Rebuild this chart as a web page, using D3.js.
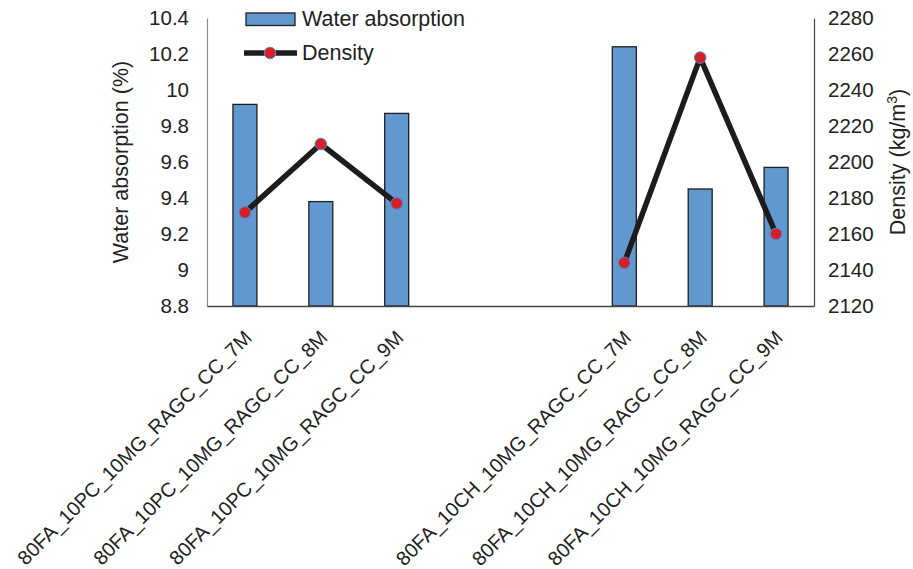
<!DOCTYPE html>
<html>
<head>
<meta charset="utf-8">
<script src="https://cdn.jsdelivr.net/npm/d3@7"></script>
<style>
  body { margin: 0; background: #fff; }
  svg { display: block; font-family: "Liberation Sans", Arial, sans-serif; }
</style>
</head>
<body>
<svg id="chart" width="913" height="569"></svg>
<script>
// Mix designs; the two blank slots separate the PC and CH groups
const categories = [
  "80FA_10PC_10MG_RAGC_CC_7M",
  "80FA_10PC_10MG_RAGC_CC_8M",
  "80FA_10PC_10MG_RAGC_CC_9M",
  "",
  "",
  "80FA_10CH_10MG_RAGC_CC_7M",
  "80FA_10CH_10MG_RAGC_CC_8M",
  "80FA_10CH_10MG_RAGC_CC_9M"
];
const waterAbsorption = [9.92, 9.38, 9.87, null, null, 10.24, 9.45, 9.57];
const density = [2172, 2210, 2177, null, null, 2144, 2258, 2160];
const leftTicks = [8.8, 9, 9.2, 9.4, 9.6, 9.8, 10, 10.2, 10.4];
const rightTicks = [2120, 2140, 2160, 2180, 2200, 2220, 2240, 2260, 2280];

const svg = d3.select("#chart");
const plotLeft = 207, plotRight = 814, plotTop = 18, plotBottom = 306;
const tickSize = 20.5, labelSize = 20, titleSize = 21.5;
const textColor = "#222";

const x = d3.scaleBand()
  .domain(d3.range(categories.length))
  .range([plotLeft, plotRight])
  .paddingInner(0.684)
  .paddingOuter(0.342);
const yL = d3.scaleLinear().domain([8.8, 10.4]).range([plotBottom, plotTop]);
const yR = d3.scaleLinear().domain([2120, 2280]).range([plotBottom, plotTop]);

const barFill = "#6198d0";
const barStroke = "#1f1f1f";
const lineColor = "#1c1c1c";
const markerFill = "#d4202a";
const markerStroke = "#5a86c5";

// Bars
svg.append("g")
  .selectAll("rect")
  .data(waterAbsorption.map((v, i) => ({ i, v })).filter(d => d.v !== null))
  .join("rect")
  .attr("x", d => x(d.i))
  .attr("width", x.bandwidth())
  .attr("y", d => yL(d.v))
  .attr("height", d => yL(8.8) - yL(d.v))
  .attr("fill", barFill)
  .attr("stroke", barStroke)
  .attr("stroke-width", 1.3);

// Left axis
const axisL = svg.append("g")
  .attr("transform", `translate(${plotLeft},0)`)
  .call(d3.axisLeft(yL).tickValues(leftTicks).tickSize(0).tickPadding(18)
    .tickFormat(d => d3.format("~g")(d)));
axisL.select(".domain").attr("stroke", "#8c8c8c").attr("stroke-width", 1.2);
axisL.selectAll("text").attr("font-size", tickSize).attr("fill", textColor)
  .attr("font-family", "Liberation Sans, Arial, sans-serif");

// Right axis
const axisR = svg.append("g")
  .attr("transform", `translate(${plotRight},0)`)
  .call(d3.axisRight(yR).tickValues(rightTicks).tickSize(0).tickPadding(14)
    .tickFormat(d3.format("d")));
axisR.select(".domain").attr("stroke", "#444").attr("stroke-width", 1.2);
axisR.selectAll("text").attr("font-size", tickSize).attr("fill", textColor)
  .attr("font-family", "Liberation Sans, Arial, sans-serif");

// Bottom axis with rotated category labels
const axisB = svg.append("g")
  .attr("transform", `translate(0,${plotBottom})`)
  .call(d3.axisBottom(x).tickSize(0).tickFormat(i => categories[i]));
axisB.select(".domain").attr("stroke", "#444").attr("stroke-width", 1.3);
axisB.selectAll("text")
  .attr("font-size", labelSize)
  .attr("fill", textColor)
  .attr("font-family", "Liberation Sans, Arial, sans-serif")
  .attr("text-anchor", "end")
  .attr("dy", null)
  .attr("y", 0)
  .attr("transform", "translate(8,33) rotate(-45)");

// Density line, broken across the empty slots
const line = d3.line()
  .defined(d => d !== null)
  .x((d, i) => x(i) + x.bandwidth() / 2)
  .y(d => yR(d));
svg.append("path")
  .datum(density)
  .attr("d", line)
  .attr("fill", "none")
  .attr("stroke", lineColor)
  .attr("stroke-width", 5.5)
  .attr("stroke-linejoin", "round");

svg.append("g")
  .selectAll("circle")
  .data(density.map((v, i) => ({ i, v })).filter(d => d.v !== null))
  .join("circle")
  .attr("cx", d => x(d.i) + x.bandwidth() / 2)
  .attr("cy", d => yR(d.v))
  .attr("r", 5.8)
  .attr("fill", markerFill)
  .attr("stroke", markerStroke)
  .attr("stroke-width", 1);

// Axis titles
svg.append("text")
  .attr("transform", `translate(128,${(plotTop + plotBottom) / 2}) rotate(-90)`)
  .attr("text-anchor", "middle")
  .attr("font-size", titleSize)
  .attr("fill", textColor)
  .text("Water absorption (%)");

const rTitle = svg.append("text")
  .attr("transform", `translate(905,${(plotTop + plotBottom) / 2}) rotate(-90)`)
  .attr("text-anchor", "middle")
  .attr("font-size", titleSize)
  .attr("fill", textColor);
rTitle.append("tspan").text("Density (kg/m");
rTitle.append("tspan").attr("font-size", 14).attr("baseline-shift", "super").text("3");
rTitle.append("tspan").text(")");

// Legend
const legend = svg.append("g");
legend.append("rect")
  .attr("x", 246).attr("y", 13).attr("width", 49).attr("height", 12.5)
  .attr("fill", barFill).attr("stroke", barStroke).attr("stroke-width", 1.3);
legend.append("text")
  .attr("x", 302).attr("y", 26)
  .attr("font-size", titleSize).attr("fill", textColor)
  .text("Water absorption");
legend.append("line")
  .attr("x1", 244).attr("x2", 297).attr("y1", 53).attr("y2", 53)
  .attr("stroke", lineColor).attr("stroke-width", 5.5);
legend.append("circle")
  .attr("cx", 270).attr("cy", 53).attr("r", 5.8)
  .attr("fill", markerFill).attr("stroke", markerStroke).attr("stroke-width", 1);
legend.append("text")
  .attr("x", 302).attr("y", 60)
  .attr("font-size", titleSize).attr("fill", textColor)
  .text("Density");
</script>
</body>
</html>
